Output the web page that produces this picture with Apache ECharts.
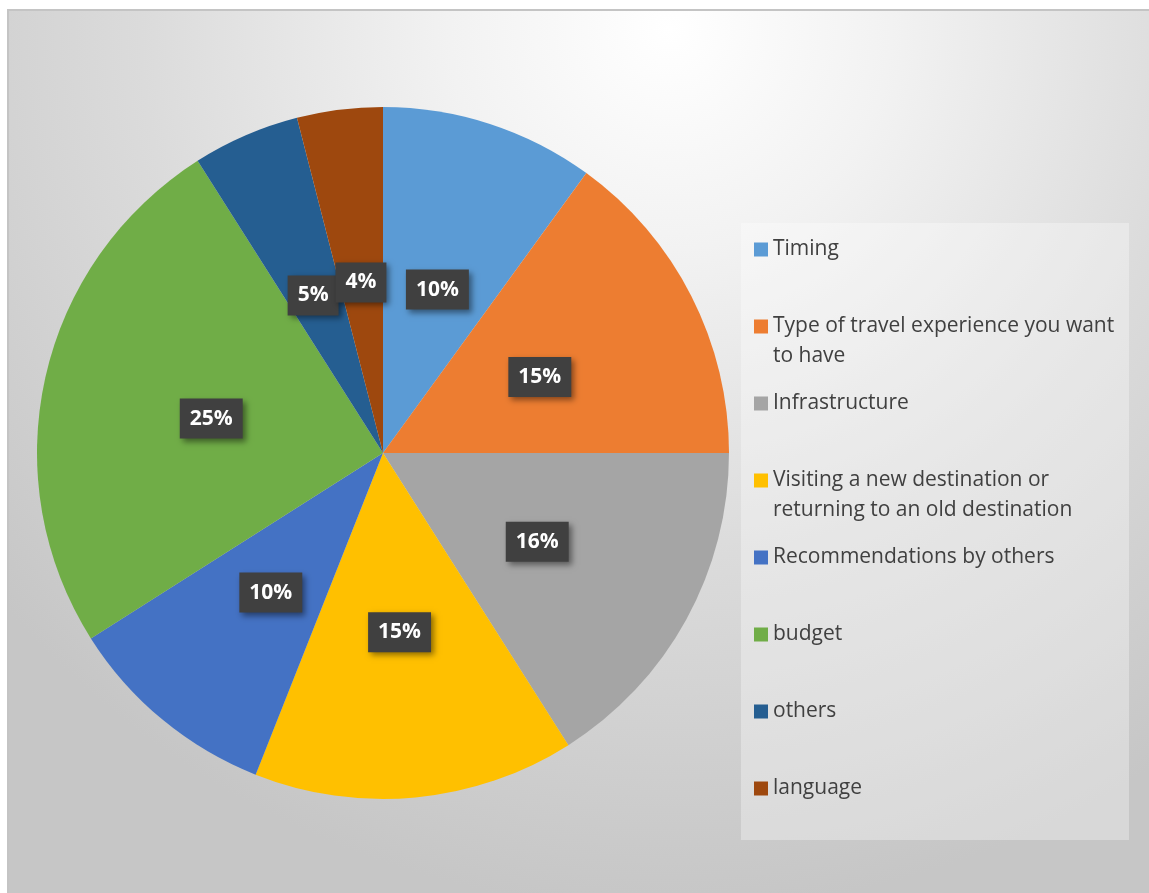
<!DOCTYPE html>
<html>
<head>
<meta charset="utf-8">
<script src="https://cdn.jsdelivr.net/npm/echarts@6/dist/echarts.min.js"></script>
<style>
  html, body { margin: 0; padding: 0; background: #ffffff; }
  #frame { position: absolute; left: 7px; top: 9px; width: 1142px; height: 884px;
           border-top: 2px solid #c4c4c4; border-left: 2px solid #c4c4c4; box-sizing: border-box; }
  #chart { position: absolute; left: 0; top: 0; width: 1140px; height: 882px; }
</style>
</head>
<body>
<div id="frame"><div id="chart"></div></div>
<script>
// ---- data ----
const categories = [
  'Timing',
  'Type of travel experience you want to have',
  'Infrastructure',
  'Visiting a new destination or returning to an old destination',
  'Recommendations by others',
  'budget',
  'others',
  'language'
];
const values = [10, 15, 16, 15, 10, 25, 5, 4];
const legendText = [
  'Timing',
  'Type of travel experience you want\nto have',
  'Infrastructure',
  'Visiting a new destination or\nreturning to an old destination',
  'Recommendations by others',
  'budget',
  'others',
  'language'
];
const colors = ['#5B9BD5', '#ED7D31', '#A5A5A5', '#FFC000', '#4472C4', '#70AD47', '#255E91', '#9E480E'];

// ---- chart ----
const chart = echarts.init(document.getElementById('chart'), null, { renderer: 'canvas' });

const LINE_H = 30;
const legends = categories.map(function (name, i) {
  const nLines = legendText[i].split('\n').length;
  const boxH = 14 + LINE_H * (nLines - 1);
  // square icon at the top of the item box, so it lines up with the first text line
  const icon = nLines > 1 ? ('path://M0,0H14V14H0Z M0,' + boxH + 'L0,' + boxH) : 'rect';
  return {
    orient: 'vertical',
    left: 745,
    top: 236.5 + 77 * i - 13,
    padding: 0,
    itemWidth: 14,
    itemHeight: boxH,
    itemGap: 5,
    selectedMode: false,
    data: [{ name: name, icon: icon }],
    formatter: function (n) { return legendText[categories.indexOf(n)]; },
    textStyle: {
      fontFamily: 'Open Sans',
      fontSize: 21,
      color: '#404040',
      lineHeight: LINE_H
    }
  };
});

const option = {
  animation: false,
  color: colors,
  graphic: [
    {
      type: 'rect', left: 0, top: 0, z: -10, silent: true,
      shape: { width: 1140, height: 882 },
      style: {
        fill: new echarts.graphic.RadialGradient(0.58, 0.02, 1.0, [
          { offset: 0, color: '#ffffff' },
          { offset: 0.25, color: '#f2f2f2' },
          { offset: 0.6, color: '#dbdbdb' },
          { offset: 1, color: '#c6c6c6' }
        ])
      }
    },
    {
      type: 'rect', left: 732, top: 212, z: -9, silent: true,
      shape: { width: 388, height: 617 },
      style: { fill: 'rgba(255,255,255,0.32)' }
    }
  ],
  legend: legends,
  series: [{
    type: 'pie',
    center: [374, 442],
    radius: 346,
    startAngle: 90,
    clockwise: true,
    avoidLabelOverlap: false,
    minShowLabelAngle: 0,
    silent: true,
    itemStyle: { borderWidth: 0 },
    labelLayout: { hideOverlap: false },
    label: {
      show: true,
      position: 'inside',
      formatter: '{c}%',
      offset: [0, 4],
      fontFamily: 'Open Sans',
      fontWeight: 'bold',
      fontSize: 21,
      color: '#ffffff',
      lineHeight: 22,
      backgroundColor: '#404040',
      padding: [9, 10, 9, 10],
      shadowColor: 'rgba(0,0,0,0.45)',
      shadowBlur: 6,
      shadowOffsetX: 3,
      shadowOffsetY: 3
    },
    labelLine: { show: false },
    data: categories.map(function (c, i) { return { name: c, value: values[i] }; })
  }]
};
chart.setOption(option);
</script>
</body>
</html>
